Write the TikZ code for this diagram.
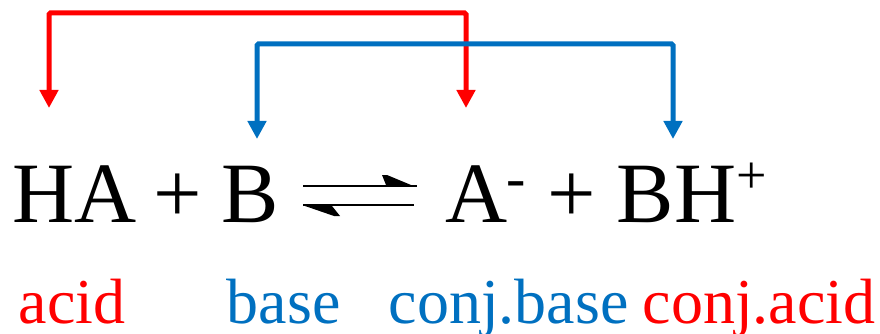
\documentclass[tikz,border=0pt]{standalone}
\usepackage{fontspec}
\setmainfont{Liberation Serif}
\usetikzlibrary{arrows.meta}

\definecolor{acidred}{RGB}{255,0,0}
\definecolor{baseblue}{RGB}{0,112,192}

\begin{document}
\begin{tikzpicture}[x=1pt, y=-1pt]
                    \tikzstyle{species} = [inner sep=0pt, anchor=base west, font=\fontsize{86}{90}\selectfont]
                    \tikzstyle{charge} = [inner sep=0pt, anchor=base west]
                    \tikzstyle{label} = [inner sep=0pt, anchor=base west, font=\fontsize{64}{70}\selectfont]
                    \tikzstyle{pair} = [line width=5pt, rounded corners=1.5pt, {Triangle[width=18pt,length=18pt]}-{Triangle[width=18pt,length=18pt]}]
                    \useasboundingbox (0,0) rectangle (880,334);

                    % equation
                    \node[species] (ha) at (12.4, 222) {HA};
                    \node[species] (plusA) at (153.4, 222) {+};
                    \node[species] (b) at (221.6, 222) {B};
                    \node[species] (am) at (445.7, 222) {A};
                    \node[charge, font=\fontsize{58}{60}\selectfont] (minus) at (506.7, 197) {-};
                    \node[species] (plusB) at (547.4, 222) {+};
                    \node[species] (bh) at (616.6, 222) {BH};
                    \node[charge, font=\fontsize{54}{56}\selectfont] (plus) at (736.5, 193) {+};

                    % equilibrium arrow
                    \coordinate (eqtl) at (303, 186);
                    \coordinate (eqtr) at (417, 186);
                    \coordinate (eqbl) at (303, 205);
                    \coordinate (eqbr) at (414, 205);
                    \draw[line width=2.4pt] (eqtl) -- (eqtr);
                    \draw[line width=2.4pt] (eqbl) -- (eqbr);
                    \fill (382,175) -- (387,175) -- (411,185) -- (386,185) -- cycle;
                    \fill (305,206) -- (332,206) -- (340,216) -- (334,216) -- cycle;

                    % labels
                    \node[label, text=acidred] (lacid) at (18.7, 323) {acid};
                    \node[label, text=baseblue] (lbase) at (226.5, 323) {base};
                    \node[label, text=baseblue] (lconjbase) at (388.5, 323) {conj.base};
                    \node[label, text=acidred] (lconjacid) at (642.5, 323) {conj.acid};

                    % conjugate pairs
                    \coordinate (tipha) at (49, 108);
                    \coordinate (tipam) at (466, 108);
                    \coordinate (tipb) at (257, 139);
                    \coordinate (tipbh) at (673, 139);
                    \coordinate (redtop) at (250, 13);
                    \coordinate (bluetop) at (460, 44);
                    \draw[pair, acidred] (tipha) |- (redtop) -| (tipam);
                    \draw[pair, baseblue] (tipb) |- (bluetop) -| (tipbh);
                \end{tikzpicture}
\end{document}
